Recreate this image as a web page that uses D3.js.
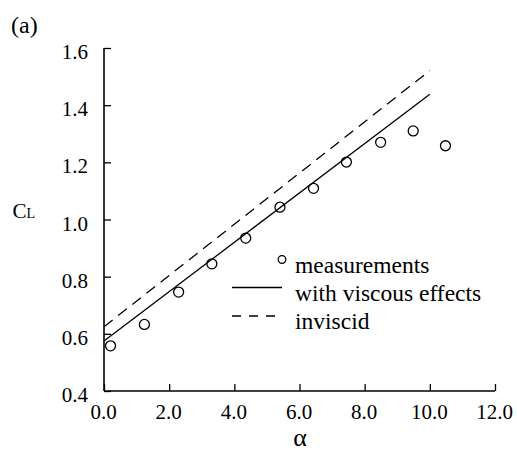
<!DOCTYPE html>
<html>
<head>
<meta charset="utf-8">
<script src="https://cdn.jsdelivr.net/npm/d3@7"></script>
<style>
  html, body { margin: 0; padding: 0; background: #fff; }
  svg { display: block; }
  svg text { font-family: "Liberation Serif", "Times New Roman", Times, "DejaVu Serif", "Noto Serif", serif !important; fill: #000; }
</style>
</head>
<body>
<svg id="chart" width="517" height="453"></svg>
<script>
// Measurements
const measAlpha = [0.2, 1.24, 2.29, 3.31, 4.35, 5.40, 6.43, 7.44, 8.49, 9.49, 10.48];
const measCL    = [0.558, 0.633, 0.746, 0.845, 0.935, 1.043, 1.109, 1.201, 1.270, 1.310, 1.258];
// Theory lines
const lineAlpha   = [0, 10];
const viscousCL   = [0.575, 1.438];
const inviscidCL  = [0.625, 1.521];
// Ticks
const xMajor = [0, 2, 4, 6, 8, 10, 12];
const xMinor = [1, 3, 5, 7, 9, 11];
const yMajor = [0.4, 0.6, 0.8, 1.0, 1.2, 1.4, 1.6];
const yMinor = [0.5, 0.7, 0.9, 1.1, 1.3, 1.5];
const legendLabels = ["measurements", "with viscous effects", "inviscid"];

const FONT = '"Liberation Serif", "Times New Roman", Times, "DejaVu Serif", "Noto Serif", serif';
const svg = d3.select("#chart");
const x = d3.scaleLinear().domain([0, 12]).range([104, 495]);
const y = d3.scaleLinear().domain([0.4, 1.6]).range([391, 48]);

// Axes
const axisW = 1.6;
const gx = svg.append("g").attr("transform", `translate(0,${y(0.4)})`);
gx.call(d3.axisBottom(x).tickValues(xMinor).tickSize(-4).tickFormat(""));
gx.call(d3.axisBottom(x).tickValues(xMajor).tickSize(-7).tickPadding(0).tickFormat(d3.format(".1f")));
gx.attr("font-family", FONT);
gx.selectAll(".domain").attr("stroke", "#000").attr("stroke-width", axisW).attr("d", `M${x(0)},0H${x(12)}`);
gx.selectAll(".tick line").attr("stroke", "#000").attr("stroke-width", 1.3);
gx.selectAll(".tick text").attr("y", 27.5).attr("dy", 0).attr("dx", -1)
  .attr("font-size", 21).attr("fill", "#000");

const gy = svg.append("g").attr("transform", `translate(${x(0)},0)`);
gy.call(d3.axisLeft(y).tickValues(yMinor).tickSize(-4).tickFormat(""));
gy.call(d3.axisLeft(y).tickValues(yMajor).tickSize(-7).tickPadding(16).tickFormat(d3.format(".1f")));
gy.attr("font-family", FONT);
gy.selectAll(".domain").attr("stroke", "#000").attr("stroke-width", axisW).attr("d", `M0,${y(1.6)}V${y(0.4)}`);
gy.selectAll(".tick line").attr("stroke", "#000").attr("stroke-width", 1.3);
gy.selectAll(".tick text").attr("dy", 10.5)
  .attr("font-size", 21).attr("fill", "#000");

// Lines
const line = d3.line().x(d => x(d[0])).y(d => y(d[1]));
svg.append("path").datum(lineAlpha.map((a, i) => [a, viscousCL[i]]))
  .attr("d", line).attr("fill", "none").attr("stroke", "#000").attr("stroke-width", 1.3);
svg.append("path").datum(lineAlpha.map((a, i) => [a, inviscidCL[i]]))
  .attr("d", line).attr("fill", "none").attr("stroke", "#000").attr("stroke-width", 1.3)
  .attr("stroke-dasharray", "11,7");

// Points
svg.append("g").selectAll("circle").data(measAlpha.map((a, i) => [a, measCL[i]]))
  .join("circle")
  .attr("cx", d => x(d[0])).attr("cy", d => y(d[1])).attr("r", 5)
  .attr("fill", "none").attr("stroke", "#000").attr("stroke-width", 1.3);

// Legend
const lg = svg.append("g").attr("font-family", FONT);
lg.append("circle").attr("cx", 282).attr("cy", 259.5).attr("r", 3.8)
  .attr("fill", "none").attr("stroke", "#000").attr("stroke-width", 1.3);
lg.append("line").attr("x1", 232).attr("x2", 282).attr("y1", 287.5).attr("y2", 287.5)
  .attr("stroke", "#000").attr("stroke-width", 1.3);
lg.append("line").attr("x1", 232).attr("x2", 282).attr("y1", 316).attr("y2", 316)
  .attr("stroke", "#000").attr("stroke-width", 1.3).attr("stroke-dasharray", "9,8");
lg.selectAll("text").data(legendLabels).join("text")
  .attr("x", 295).attr("y", (d, i) => 273 + i * 28)
  .attr("font-size", 23.5).text(d => d);

// Axis titles
svg.append("text").attr("x", 300).attr("y", 446).attr("text-anchor", "middle")
  .attr("font-family", FONT).attr("font-size", 26).text("α");
const cl = svg.append("text").attr("x", 12.5).attr("y", 218).attr("font-family", FONT).attr("font-size", 21);
cl.append("tspan").text("C");
cl.append("tspan").attr("font-size", 14).text("L");

// Panel label
svg.append("text").attr("x", 11).attr("y", 33).attr("font-family", FONT).attr("font-size", 24).text("(a)");
</script>
</body>
</html>
